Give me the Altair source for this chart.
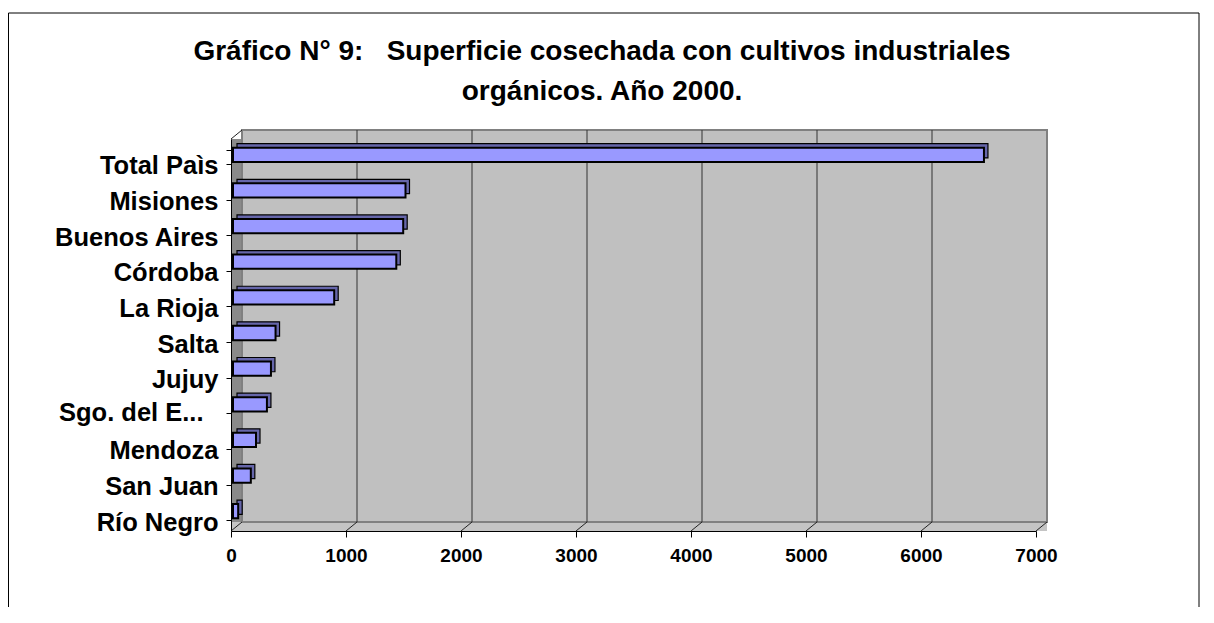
import altair as alt
import pandas as pd

# ---- data ----
categories = ["Total Paìs", "Misiones", "Buenos Aires", "Córdoba", "La Rioja",
              "Salta", "Jujuy", "Sgo. del E...", "Mendoza", "San Juan", "Río Negro"]
values = [6530, 1500, 1480, 1420, 880, 370, 330, 295, 200, 155, 45]
x_ticks = [0, 1000, 2000, 3000, 4000, 5000, 6000, 7000]
title_lines = ["Gráfico N° 9:\u00a0\u00a0\u00a0Superficie cosechada con cultivos industriales",
               "orgánicos. Año 2000."]

FONT = "Liberation Sans"
W, H = 805, 392
DX, DY = 11, 9

df = pd.DataFrame({"provincia": categories, "superficie": values})
ticks_df = pd.DataFrame({"t": x_ticks})
one = pd.DataFrame({"k": [0]})

x_scale = alt.Scale(domain=[0, 7000], nice=False, zero=True)
y_scale = alt.Scale(domain=categories, paddingInner=0.6, paddingOuter=0.3)

SGO = "datum.value == 'Sgo. del E...'"

x_axis = alt.Axis(values=x_ticks, title=None, format="d", labelFont=FONT, labelFontSize=19,
                  labelFontWeight="bold", labelColor="black", tickColor="black", tickSize=6,
                  domainColor="black", labelPadding=9, grid=False, zindex=1, labelFlush=False)
y_axis = alt.Axis(title=None, labelFont=FONT, labelFontSize=25.5, labelFontWeight="bold",
                  labelColor="black", tickBand="extent", tickColor="black", tickSize=5,
                  domainColor="black",
                  labelPadding={"condition": {"test": SGO, "value": 23}, "value": 8},
                  labelOffset={"condition": {"test": SGO, "value": 6}, "value": 9},
                  grid=False, zindex=1, labelLimit=400)

base_one = alt.Chart(one)

border = base_one.mark_rect(fill="white", fillOpacity=0, stroke="black", strokeWidth=1).encode(
    x=alt.value(-222.5), x2=alt.value(968), y=alt.value(-126), y2=alt.value(520))

left_wall = base_one.mark_rect(fill="#8a8a8a").encode(
    x=alt.value(0), x2=alt.value(DX), y=alt.value(0), y2=alt.value(H))

floor = base_one.mark_rect(fill="#c4c4c4").encode(
    x=alt.value(0), x2=alt.value(W + DX), y=alt.value(H - DY), y2=alt.value(H))

back_wall = base_one.mark_rect(fill="#c0c0c0", stroke="#808080", strokeWidth=2,
                               xOffset=DX, x2Offset=DX).encode(
    x=alt.X(datum=0, type="quantitative", scale=x_scale, axis=x_axis),
    x2=alt.X2(datum=7000),
    y=alt.value(-DY), y2=alt.value(H - DY))

grid = alt.Chart(ticks_df).transform_filter("datum.t > 0 && datum.t < 7000").mark_rule(
    color="#333333", strokeWidth=1, xOffset=DX).encode(
    x=alt.X("t:Q", scale=x_scale, axis=x_axis),
    y=alt.value(-DY), y2=alt.value(H - DY))

floor_diag = alt.Chart(ticks_df).mark_rule(color="#222222", strokeWidth=1, x2Offset=DX).encode(
    x=alt.X("t:Q", scale=x_scale, axis=x_axis), x2=alt.X2("t"),
    y=alt.value(H), y2=alt.value(H - DY))

top_diag = base_one.mark_rule(color="#222222", strokeWidth=1).encode(
    x=alt.value(0), x2=alt.value(DX), y=alt.value(0), y2=alt.value(-DY))

bars_depth = alt.Chart(df).mark_bar(color="#6666aa", stroke="black", strokeWidth=1.2,
                                    xOffset=6, x2Offset=6, yOffset=-6).encode(
    x=alt.X("superficie:Q", scale=x_scale, axis=x_axis),
    y=alt.Y("provincia:N", scale=y_scale, sort=categories, axis=y_axis))

bars = alt.Chart(df).mark_bar(color="#9999ff", stroke="black", strokeWidth=2,
                              xOffset=2, x2Offset=2, yOffset=-2).encode(
    x=alt.X("superficie:Q", scale=x_scale, axis=x_axis),
    y=alt.Y("provincia:N", scale=y_scale, sort=categories, axis=y_axis))

title = base_one.mark_text(text=title_lines, font=FONT, fontSize=28, fontWeight="bold",
                           color="black", align="center", baseline="alphabetic",
                           lineHeight=40).encode(
    x=alt.value(371), y=alt.value(-79))

chart = alt.layer(border, left_wall, floor, back_wall, grid, floor_diag, top_diag,
                  bars_depth, bars, title).properties(
    width=W, height=H,
    autosize=alt.AutoSizeParams(type="none"),
    padding={"left": 223, "top": 131, "right": 165, "bottom": 76},
    background="white",
).configure_view(stroke=None)

chart.save("out.html", embed_options={"renderer": "svg", "actions": False})
